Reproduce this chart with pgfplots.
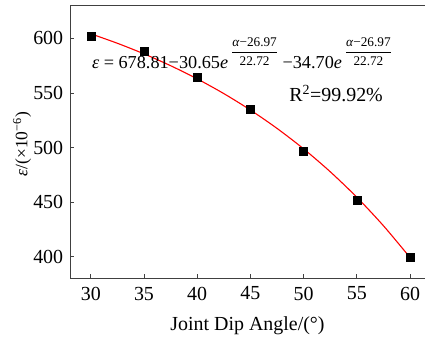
\documentclass[border=0pt]{standalone}
\usepackage{fontspec}
\setmainfont{Liberation Serif}
\usepackage{pgfplots}
\pgfplotsset{compat=1.18}
\newcommand{\expfrac}{\raisebox{13bp}{\fontsize{13.3}{14}\selectfont$\displaystyle\frac{\mbox{\textit{α}−26.97}}{\mbox{22.72}}$}}
\begin{document}
\fontsize{20}{22}\selectfont
\begin{tikzpicture}
\path[use as bounding box] (0,0) rectangle (425bp,340bp);
\begin{axis}[
  at={(70bp,62bp)}, anchor=south west,
  scale only axis, width=355bp, height=273bp,
  xmin=28.05, xmax=61.4, ymin=380.5, ymax=630.5,
  axis lines*=left,
  axis line style={-, draw=black!75, line width=0.9pt},
  tick align=inside,
  major tick length=4bp,
  tick style={draw=black!75, line width=0.8pt},
  xtick={30,35,...,60},
  ytick={400,450,...,600},
  /pgf/number format/assume math mode=true,
  ticklabel style={font=\fontsize{20}{22}\selectfont},
  xticklabel style={yshift=-2bp},
  xlabel={Joint Dip Angle/(°)},
  ylabel={\textit{ε}/(×10\textsuperscript{−6})},
  xlabel style={font=\fontsize{20}{22}\selectfont, yshift=-3bp},
  ylabel style={font=\fontsize{17.5}{19}\selectfont, at={(axis description cs:-0.135,0.49)}, anchor=center},
  clip=false,
]
\draw[draw=black!75, line width=0.9pt] (rel axis cs:0,1) -- (rel axis cs:1.02,1);
\addplot[only marks, mark=square*, mark size=4bp, black] coordinates {
  (30,601.5) (35,588) (40,564.8) (45,535) (50,496.5) (55,451.5) (60,400)
};
\addplot[red, line width=1.1pt, smooth] coordinates {
  (30,604.14) (32.5,595.45) (35,585.76) (37.5,574.93) (40,562.85)
  (42.5,549.36) (45,534.30) (47.5,517.49) (50,498.73) (52.5,477.78)
  (55,454.40) (57.5,428.30) (60,399.16)
};
\node[anchor=base west, inner sep=0pt, font=\fontsize{18.3}{20}\selectfont] at (axis cs:30.1,571.9)
  {\textit{ε} = 678.81−30.65\textit{e}\,\expfrac\ −34.70\textit{e}\,\expfrac};
\node[anchor=base, inner sep=0pt, font=\fontsize{20}{22}\selectfont] at (axis cs:53.05,541.7) {R\textsuperscript{2}=99.92\%};
\end{axis}
\end{tikzpicture}
\end{document}
